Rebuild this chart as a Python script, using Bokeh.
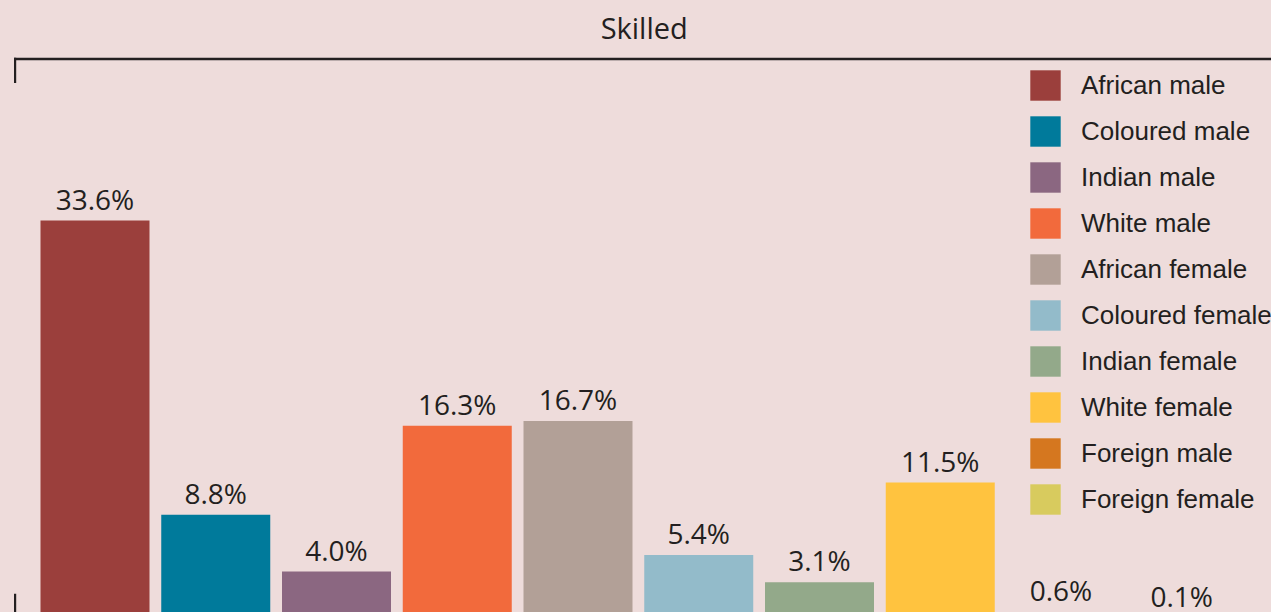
from bokeh.plotting import figure
from bokeh.models import ColumnDataSource, Range1d, Label, BoxAnnotation
from bokeh.core.properties import value
from bokeh.embed import file_html
from bokeh.resources import INLINE

# ---- data ----
groups = ["African male", "Coloured male", "Indian male", "White male",
          "African female", "Coloured female", "Indian female", "White female",
          "Foreign male", "Foreign female"]
shares = [33.6, 8.8, 4.0, 16.3, 16.7, 5.4, 3.1, 11.5, 0.6, 0.1]
colors = ["#9B3F3C", "#007A9B", "#8B6781", "#F26A3C", "#B2A097",
          "#93BBCA", "#93A98A", "#FFC33F", "#D5771F", "#D8CB5E"]
title_text = "Skilled"

BG = "#EEDCDB"
INK = "#231F20"

labels = [f"{v:.1f}%" for v in shares]
source = ColumnDataSource(dict(x=list(range(len(groups))), top=shares,
                               group=groups, color=colors, label=labels))

W, H = 1271, 612
STEP = 120.75
X0 = -94.5 / STEP
PPU = 11.86
p = figure(width=W, height=H,
           x_range=Range1d(X0, X0 + W / STEP),
           y_range=Range1d((618.5 - H) / PPU, 618.5 / PPU),
           output_backend="svg", toolbar_location=None,
           x_axis_location=None, y_axis_location=None,
           min_border=0)
p.background_fill_color = BG
p.border_fill_color = BG
p.outline_line_color = None
p.grid.visible = False

p.vbar(x="x", top="top", bottom=0, width=109 / STEP, color="color",
       line_color=None, source=source, legend_field="group")

p.text(x="x", y="top", text="label", source=source,
       text_font=value("Open Sans"), text_font_size="28px",
       text_align="center", text_baseline="alphabetic",
       y_offset=-22, text_color=INK)

# title
p.add_layout(Label(x=643.7, y=H - 26.6, x_units="screen", y_units="screen",
                   text=title_text, text_font="Open Sans", text_font_size="29px",
                   text_align="center", text_baseline="alphabetic",
                   text_color=INK))

# bracket decoration
for l, r, t, b in [(13.5, W, H - 57.3, H - 59.8),
                   (13.5, 15.7, H - 57.3, H - 82.5),
                   (13.5, 15.7, H - 593.3, 0)]:
    p.add_layout(BoxAnnotation(left=l, right=r, top=t, bottom=b,
                               left_units="screen", right_units="screen",
                               top_units="screen", bottom_units="screen",
                               fill_color=INK, fill_alpha=1, line_color=None))

GL = 38
SP = 8
p.legend.location = (1026, H - 66 - (10 * GL + 9 * SP))
p.legend.glyph_width = GL
p.legend.glyph_height = GL
p.legend.label_height = GL
p.legend.spacing = SP
p.legend.padding = 0
p.legend.margin = 0
p.legend.label_standoff = 17
p.legend.label_text_font = "Liberation Sans"
p.legend.label_text_font_size = "26px"
p.legend.label_text_color = INK
p.legend.border_line_color = None
p.legend.background_fill_alpha = 0

html = file_html(p, INLINE)
html = html.replace("<head>", "<head><style>html,body{background:%s;overflow:hidden;}</style>" % BG, 1)
open("out.html", "w").write(html)
